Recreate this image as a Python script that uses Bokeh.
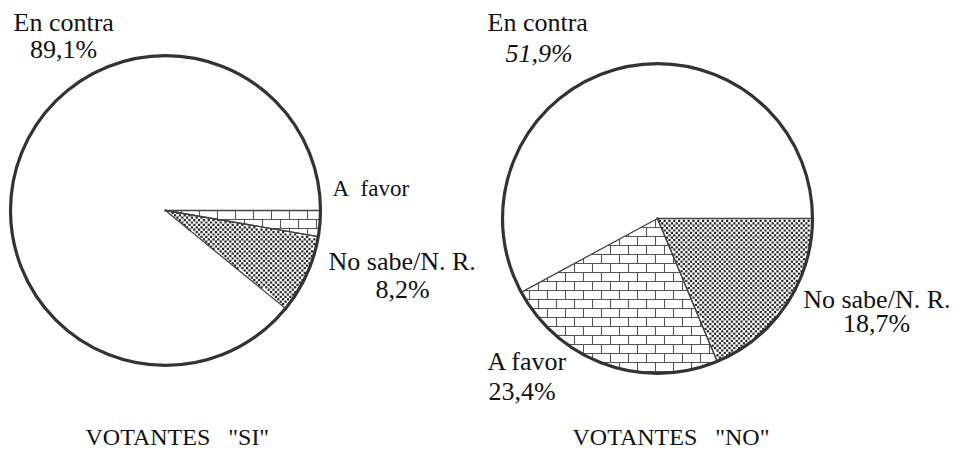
import math
import numpy as np
from bokeh.plotting import figure
from bokeh.models import Range1d
from bokeh.core.properties import value
from bokeh.embed import file_html
from bokeh.resources import INLINE

# ---------------- data ----------------
categories = ["En contra", "A favor", "No sabe/N. R."]
si_values = [89.1, 2.7, 8.2]          # "A favor" share not printed, estimated
no_values = [51.9, 23.4, 18.7]
si_slice_order = ["A favor", "No sabe/N. R."]      # clockwise from 3 o'clock
no_slice_order = ["No sabe/N. R.", "A favor"]
si_title = 'VOTANTES\u00a0\u00a0\u00a0"SI"'
no_title = 'VOTANTES\u00a0\u00a0\u00a0"NO"'

def pct(v):
    return f"{v:.1f}".replace(".", ",") + "%"

# ---------------- layout (page pixels) ----------------
W, H = 956, 452
def X(px): return px
def Y(py): return H - py

R = 155
si_center = (165, 210)
no_center = (657, 218)
FONT = "'Liberation Serif', 'Times New Roman', serif"
INK = "#333333"
BASELINE_FIX = 0.36   # empirical em-offset of the rendered alphabetic baseline

p = figure(width=W, height=H, output_backend="svg", toolbar_location=None,
           x_range=Range1d(0, W), y_range=Range1d(0, H),
           x_axis_location=None, y_axis_location=None, min_border=0)
p.grid.visible = False
p.outline_line_color = None
p.background_fill_color = "white"


def clip_segment(p0, p1, c, r, a_start, a_end):
    """Clip segment p0-p1 to the convex sector (a_start..a_end anticlockwise)."""
    p0 = np.asarray(p0, float); p1 = np.asarray(p1, float); c = np.asarray(c, float)
    d = p1 - p0
    f = p0 - c
    t0, t1 = 0.0, 1.0
    A = d @ d; B = 2 * (f @ d); C = f @ f - r * r
    disc = B * B - 4 * A * C
    if disc <= 0:
        return None
    sq = math.sqrt(disc)
    t0 = max(t0, (-B - sq) / (2 * A)); t1 = min(t1, (-B + sq) / (2 * A))
    ua = np.array([math.cos(a_start), math.sin(a_start)])
    ub = np.array([math.cos(a_end), math.sin(a_end)])
    for g0, g1 in ((ua[0] * f[1] - ua[1] * f[0], ua[0] * d[1] - ua[1] * d[0]),
                   (f[0] * ub[1] - f[1] * ub[0], d[0] * ub[1] - d[1] * ub[0])):
        if abs(g1) < 1e-12:
            if g0 < 0:
                return None
        elif g1 > 0:
            t0 = max(t0, -g0 / g1)
        else:
            t1 = min(t1, -g0 / g1)
    if t1 - t0 < 1e-6:
        return None
    return p0 + t0 * d, p0 + t1 * d


def inside(px, py, c, r, a_start, a_end):
    fx, fy = px - c[0], py - c[1]
    ua = (math.cos(a_start), math.sin(a_start)); ub = (math.cos(a_end), math.sin(a_end))
    return (fx * fx + fy * fy <= r * r and ua[0] * fy - ua[1] * fx >= 0
            and fx * ub[1] - fy * ub[0] >= 0)


def brick_texture(c, r, a0, a1, bh=9.0, bw=18.0):
    xs0, ys0, xs1, ys1 = [], [], [], []
    xmin, xmax = c[0] - r, c[0] + r
    ymax = c[1] + r
    k = 0
    y = c[1] - bh * math.ceil(r / bh)
    while y <= ymax:
        seg = clip_segment((xmin, y), (xmax, y), c, r, a0, a1)
        if seg:
            xs0.append(seg[0][0]); ys0.append(seg[0][1]); xs1.append(seg[1][0]); ys1.append(seg[1][1])
        off = (bw / 2) if k % 2 else 0.0
        x = xmin - bw + off
        while x <= xmax:
            seg = clip_segment((x, y), (x, y + bh), c, r, a0, a1)
            if seg:
                xs0.append(seg[0][0]); ys0.append(seg[0][1]); xs1.append(seg[1][0]); ys1.append(seg[1][1])
            x += bw
        y += bh
        k += 1
    p.segment(x0=xs0, y0=ys0, x1=xs1, y1=ys1, line_color="#555555", line_width=1.1)


def dot_texture(c, r, a0, a1, step=2.4):
    xs, ys = [], []
    n = int(r / step) + 2
    for i in range(-n, n + 1):
        for j in range(-n, n + 1):
            if (i + j) % 2:
                continue
            px, py = c[0] + i * step, c[1] + j * step
            if inside(px, py, c, r - 1.5, a0 + 0.01, a1 - 0.01):
                xs.append(px); ys.append(py)
    p.rect(x=xs, y=ys, width=2.2, height=2.2, fill_color="#262626", line_color=None)


texture_for = {"A favor": brick_texture, "No sabe/N. R.": dot_texture}


def draw_pie(center, values, order):
    c = (X(center[0]), Y(center[1]))
    vals = dict(zip(categories, values))
    p.circle(x=c[0], y=c[1], radius=R, fill_color="white", line_color=None)
    cum = 0.0
    for cat in order:
        s0 = cum
        cum += vals[cat]
        a_start = -cum / 100 * 2 * math.pi
        a_end = -s0 / 100 * 2 * math.pi
        texture_for[cat](c, R, a_start, a_end)
        p.wedge(x=c[0], y=c[1], radius=R, start_angle=a_start, end_angle=a_end,
                direction="anticlock", fill_color=None, line_color="#444444", line_width=1.3)
    p.circle(x=c[0], y=c[1], radius=R, fill_color=None, line_color=INK, line_width=3.2)


draw_pie(si_center, si_values, si_slice_order)
draw_pie(no_center, no_values, no_slice_order)

si = dict(zip(categories, si_values))
no = dict(zip(categories, no_values))

labels = [
    # text, px, py(baseline), align, size, style
    ("En contra", 13, 31, "left", 26, "normal"),
    (pct(si["En contra"]), 63, 58, "center", 26, "normal"),
    ("A\u00a0\u00a0favor", 332, 196, "left", 23, "normal"),
    ("No sabe/N. R.", 328, 270, "left", 26, "normal"),
    (pct(si["No sabe/N. R."]), 402, 298, "center", 26, "normal"),
    (si_title, 85, 445, "left", 24, "normal"),
    ("En contra", 487, 31, "left", 26, "normal"),
    (pct(no["En contra"]), 505, 62, "left", 26, "italic"),
    ("No sabe/N. R.", 950, 308, "right", 26, "normal"),
    (pct(no["No sabe/N. R."]), 876, 332, "center", 26, "normal"),
    ("A favor", 487, 370, "left", 26, "normal"),
    (pct(no["A favor"]), 488, 400, "left", 26, "normal"),
    (no_title, 572, 445, "left", 24, "normal"),
]
for t, px, py, al, sz, st in labels:
    p.text(x=[X(px)], y=[Y(py - BASELINE_FIX * sz)], text=[t], text_align=al,
           text_baseline="alphabetic",
           text_font=value(FONT), text_font_size=f"{sz}px", text_font_style=st,
           text_color="#111111")

open("out.html", "w").write(file_html(p, INLINE))
